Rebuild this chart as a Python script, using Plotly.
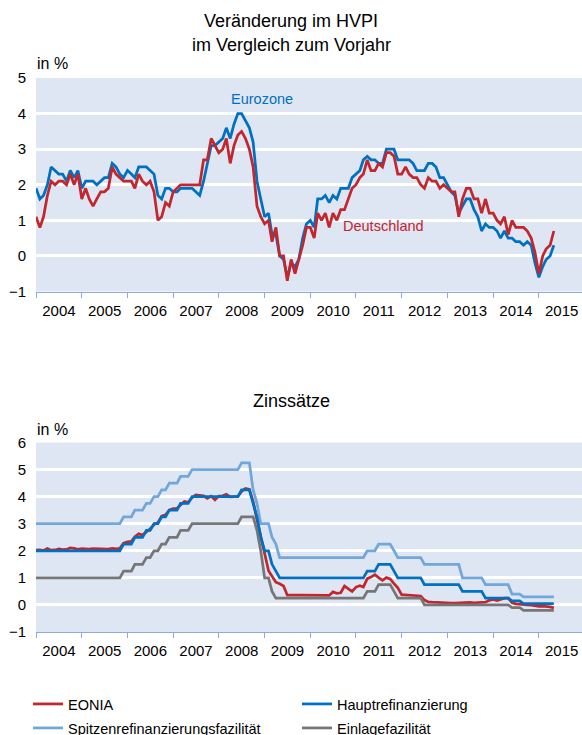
import pandas as pd
import plotly.graph_objects as go

# ---------------- data ----------------
months = pd.date_range("2004-01-01", "2015-05-01", freq="MS")

hvpi_eurozone = [
    1.9, 1.6, 1.7, 2.0, 2.5, 2.4, 2.3, 2.3, 2.1, 2.4, 2.2, 2.4,
    1.9, 2.1, 2.1, 2.1, 2.0, 2.1, 2.2, 2.2, 2.6, 2.5, 2.3, 2.2,
    2.4, 2.3, 2.2, 2.5, 2.5, 2.5, 2.4, 2.3, 1.7, 1.6, 1.9, 1.9,
    1.8, 1.8, 1.9, 1.9, 1.9, 1.9, 1.8, 1.7, 2.1, 2.6, 3.1, 3.1,
    3.2, 3.3, 3.6, 3.3, 3.7, 4.0, 4.0, 3.8, 3.6, 3.2, 2.1, 1.6,
    1.1, 1.2, 0.6, 0.6, 0.0, -0.1, -0.6, -0.2, -0.3, -0.1, 0.5, 0.9,
    1.0, 0.8, 1.6, 1.6, 1.7, 1.5, 1.7, 1.6, 1.9, 1.9, 1.9, 2.2,
    2.3, 2.4, 2.7, 2.8, 2.7, 2.7, 2.6, 2.6, 3.0, 3.0, 3.0, 2.7,
    2.7, 2.7, 2.7, 2.6, 2.4, 2.4, 2.4, 2.6, 2.6, 2.5, 2.2, 2.2,
    2.0, 1.8, 1.7, 1.2, 1.4, 1.6, 1.6, 1.3, 1.1, 0.7, 0.9, 0.8,
    0.8, 0.7, 0.5, 0.7, 0.5, 0.5, 0.4, 0.4, 0.3, 0.4, 0.3, -0.2,
    -0.6, -0.3, -0.1, 0.0, 0.3,
]
hvpi_deutschland = [
    1.1, 0.8, 1.1, 1.7, 2.1, 2.0, 2.1, 2.1, 2.0, 2.3, 2.0, 2.3,
    1.6, 1.9, 1.6, 1.4, 1.6, 1.8, 1.8, 1.9, 2.5, 2.3, 2.2, 2.1,
    2.1, 2.1, 1.9, 2.3, 2.1, 2.0, 2.1, 1.8, 1.0, 1.1, 1.5, 1.4,
    1.8, 1.9, 2.0, 2.0, 2.0, 2.0, 2.0, 2.0, 2.7, 2.7, 3.3, 3.1,
    2.9, 3.0, 3.3, 2.6, 3.1, 3.4, 3.5, 3.3, 3.0, 2.5, 1.4, 1.1,
    0.9, 1.0, 0.4, 0.8, 0.0, 0.0, -0.7, -0.1, -0.5, -0.1, 0.3, 0.8,
    0.8, 0.5, 1.2, 1.0, 1.2, 0.8, 1.2, 1.0, 1.3, 1.3, 1.6, 1.9,
    2.0, 2.2, 2.3, 2.7, 2.4, 2.4, 2.6, 2.5, 2.9, 2.9, 2.8, 2.3,
    2.3, 2.5, 2.3, 2.2, 2.2, 2.0, 1.9, 2.2, 2.1, 2.1, 1.9, 2.0,
    1.9, 1.8, 1.8, 1.1, 1.6, 1.9, 1.9, 1.6, 1.6, 1.2, 1.6, 1.2,
    1.2, 1.0, 0.9, 1.1, 0.6, 1.0, 0.8, 0.8, 0.8, 0.7, 0.5, 0.1,
    -0.5, 0.0, 0.2, 0.3, 0.7,
]

eonia = [
    2.02, 2.03, 2.01, 2.08, 2.02, 2.03, 2.07, 2.04, 2.05, 2.11, 2.09, 2.05,
    2.08, 2.06, 2.06, 2.08, 2.07, 2.06, 2.07, 2.06, 2.09, 2.07, 2.09, 2.28,
    2.33, 2.35, 2.52, 2.63, 2.58, 2.70, 2.81, 2.97, 3.04, 3.28, 3.33, 3.50,
    3.56, 3.57, 3.69, 3.82, 3.79, 3.96, 4.06, 4.05, 4.03, 3.94, 4.02, 3.88,
    4.02, 4.03, 4.09, 3.99, 4.01, 4.01, 4.19, 4.30, 4.27, 3.82, 3.15, 2.49,
    1.81, 1.26, 1.06, 0.84, 0.78, 0.70, 0.36, 0.35, 0.36, 0.36, 0.36, 0.35,
    0.34, 0.34, 0.35, 0.35, 0.34, 0.35, 0.48, 0.43, 0.45, 0.70, 0.59, 0.50,
    0.66, 0.71, 0.66, 0.97, 1.03, 1.12, 1.01, 0.91, 1.01, 0.96, 0.79, 0.63,
    0.38, 0.37, 0.36, 0.35, 0.34, 0.33, 0.18, 0.11, 0.10, 0.09, 0.08, 0.07,
    0.07, 0.07, 0.07, 0.08, 0.08, 0.09, 0.09, 0.08, 0.08, 0.09, 0.10, 0.17,
    0.20, 0.16, 0.19, 0.25, 0.25, 0.08, 0.04, 0.02, 0.01, 0.00, -0.01, -0.03,
    -0.05, -0.04, -0.05, -0.07, -0.11,
]
hauptrefinanzierung = [
    2.00, 2.00, 2.00, 2.00, 2.00, 2.00, 2.00, 2.00, 2.00, 2.00, 2.00, 2.00,
    2.00, 2.00, 2.00, 2.00, 2.00, 2.00, 2.00, 2.00, 2.00, 2.00, 2.00, 2.25,
    2.25, 2.25, 2.50, 2.50, 2.50, 2.75, 2.75, 3.00, 3.00, 3.25, 3.25, 3.50,
    3.50, 3.50, 3.75, 3.75, 3.75, 4.00, 4.00, 4.00, 4.00, 4.00, 4.00, 4.00,
    4.00, 4.00, 4.00, 4.00, 4.00, 4.00, 4.25, 4.25, 4.25, 3.75, 3.25, 2.50,
    2.00, 2.00, 1.50, 1.25, 1.00, 1.00, 1.00, 1.00, 1.00, 1.00, 1.00, 1.00,
    1.00, 1.00, 1.00, 1.00, 1.00, 1.00, 1.00, 1.00, 1.00, 1.00, 1.00, 1.00,
    1.00, 1.00, 1.00, 1.25, 1.25, 1.25, 1.50, 1.50, 1.50, 1.50, 1.25, 1.00,
    1.00, 1.00, 1.00, 1.00, 1.00, 1.00, 0.75, 0.75, 0.75, 0.75, 0.75, 0.75,
    0.75, 0.75, 0.75, 0.75, 0.50, 0.50, 0.50, 0.50, 0.50, 0.50, 0.25, 0.25,
    0.25, 0.25, 0.25, 0.25, 0.25, 0.15, 0.15, 0.15, 0.05, 0.05, 0.05, 0.05,
    0.05, 0.05, 0.05, 0.05, 0.05,
]
spitzenrefinanzierung = [
    3.00, 3.00, 3.00, 3.00, 3.00, 3.00, 3.00, 3.00, 3.00, 3.00, 3.00, 3.00,
    3.00, 3.00, 3.00, 3.00, 3.00, 3.00, 3.00, 3.00, 3.00, 3.00, 3.00, 3.25,
    3.25, 3.25, 3.50, 3.50, 3.50, 3.75, 3.75, 4.00, 4.00, 4.25, 4.25, 4.50,
    4.50, 4.50, 4.75, 4.75, 4.75, 5.00, 5.00, 5.00, 5.00, 5.00, 5.00, 5.00,
    5.00, 5.00, 5.00, 5.00, 5.00, 5.00, 5.25, 5.25, 5.25, 4.25, 3.75, 3.00,
    3.00, 3.00, 2.50, 2.25, 1.75, 1.75, 1.75, 1.75, 1.75, 1.75, 1.75, 1.75,
    1.75, 1.75, 1.75, 1.75, 1.75, 1.75, 1.75, 1.75, 1.75, 1.75, 1.75, 1.75,
    1.75, 1.75, 1.75, 2.00, 2.00, 2.00, 2.25, 2.25, 2.25, 2.25, 2.00, 1.75,
    1.75, 1.75, 1.75, 1.75, 1.75, 1.75, 1.50, 1.50, 1.50, 1.50, 1.50, 1.50,
    1.50, 1.50, 1.50, 1.50, 1.00, 1.00, 1.00, 1.00, 1.00, 1.00, 0.75, 0.75,
    0.75, 0.75, 0.75, 0.75, 0.75, 0.40, 0.40, 0.40, 0.30, 0.30, 0.30, 0.30,
    0.30, 0.30, 0.30, 0.30, 0.30,
]
einlagefazilitaet = [
    1.00, 1.00, 1.00, 1.00, 1.00, 1.00, 1.00, 1.00, 1.00, 1.00, 1.00, 1.00,
    1.00, 1.00, 1.00, 1.00, 1.00, 1.00, 1.00, 1.00, 1.00, 1.00, 1.00, 1.25,
    1.25, 1.25, 1.50, 1.50, 1.50, 1.75, 1.75, 2.00, 2.00, 2.25, 2.25, 2.50,
    2.50, 2.50, 2.75, 2.75, 2.75, 3.00, 3.00, 3.00, 3.00, 3.00, 3.00, 3.00,
    3.00, 3.00, 3.00, 3.00, 3.00, 3.00, 3.25, 3.25, 3.25, 3.25, 2.75, 2.00,
    1.00, 1.00, 0.50, 0.25, 0.25, 0.25, 0.25, 0.25, 0.25, 0.25, 0.25, 0.25,
    0.25, 0.25, 0.25, 0.25, 0.25, 0.25, 0.25, 0.25, 0.25, 0.25, 0.25, 0.25,
    0.25, 0.25, 0.25, 0.50, 0.50, 0.50, 0.75, 0.75, 0.75, 0.75, 0.50, 0.25,
    0.25, 0.25, 0.25, 0.25, 0.25, 0.25, 0.00, 0.00, 0.00, 0.00, 0.00, 0.00,
    0.00, 0.00, 0.00, 0.00, 0.00, 0.00, 0.00, 0.00, 0.00, 0.00, 0.00, 0.00,
    0.00, 0.00, 0.00, 0.00, 0.00, -0.10, -0.10, -0.10, -0.20, -0.20, -0.20, -0.20,
    -0.20, -0.20, -0.20, -0.20, -0.20,
]

# ---------------- styling ----------------
RED = "#c1272d"
BLUE = "#0070c0"
LIGHTBLUE = "#71a7da"
GRAY = "#767676"
BG = "#dfe6f3"
AXIS = "#8eaadb"
FONT = "Liberation Sans, Arial, sans-serif"
LW = 2.75

W, H = 582, 735
L = 36
B = 60  # bottom margin (legend lives there, below the plot area)


def py(px):
    return 1 - px / (H - B)


def px_x(px):
    return (px - L) / (W - L)


fig = go.Figure()

# top chart
fig.add_trace(go.Scatter(x=months, y=hvpi_eurozone, mode="lines", line=dict(color=BLUE, width=LW),
                         showlegend=False, xaxis="x", yaxis="y"))
fig.add_trace(go.Scatter(x=months, y=hvpi_deutschland, mode="lines", line=dict(color=RED, width=LW),
                         showlegend=False, xaxis="x", yaxis="y"))

# bottom chart (one legend box per entry -> 2 x 2 grid)
fig.add_trace(go.Scatter(x=months, y=eonia, mode="lines", name="EONIA",
                         line=dict(color=RED, width=LW), xaxis="x2", yaxis="y2", legend="legend"))
fig.add_trace(go.Scatter(x=months, y=einlagefazilitaet, mode="lines", name="Einlagefazilität",
                         line=dict(color=GRAY, width=LW), xaxis="x2", yaxis="y2", legend="legend4"))
fig.add_trace(go.Scatter(x=months, y=spitzenrefinanzierung, mode="lines", name="Spitzenrefinanzierungsfazilität",
                         line=dict(color=LIGHTBLUE, width=LW), xaxis="x2", yaxis="y2", legend="legend3"))
fig.add_trace(go.Scatter(x=months, y=hauptrefinanzierung, mode="lines", name="Hauptrefinanzierung",
                         line=dict(color=BLUE, width=LW), xaxis="x2", yaxis="y2", legend="legend2"))

xcommon = dict(
    type="date", range=["2004-01-01", "2015-12-12"], tick0="2004-01-01", dtick="M12",
    tickformat="%Y", ticklabelmode="period", ticks="outside", ticklen=5, tickcolor=AXIS,
    showline=True, linecolor=AXIS, linewidth=1, showgrid=False, zeroline=False,
    tickfont=dict(size=15, color="black", family=FONT), ticklabelstandoff=0, automargin=False,
)
ycommon = dict(
    dtick=1, showgrid=True, gridcolor="white", gridwidth=3, zeroline=True, zerolinecolor="white",
    zerolinewidth=3, showline=False, ticks="", ticklabelstandoff=9, automargin=False,
    tickfont=dict(size=15, color="black", family=FONT),
)

top_dom = [py(291.5), py(78)]
bot_dom = [py(632), py(442.5)]

legend_common = dict(orientation="h", xanchor="left", yanchor="top",
                     font=dict(size=14.5, family=FONT), bgcolor="rgba(0,0,0,0)", itemwidth=30)
COL1, COL2 = 28, 297
ROW1, ROW2 = 688, 712

fig.update_layout(
    width=W, height=H,
    margin=dict(l=L, r=0, t=0, b=B, autoexpand=False),
    paper_bgcolor="white", plot_bgcolor=BG,
    font=dict(family=FONT, color="black"),
    xaxis=dict(domain=[0, 1], anchor="y", **xcommon),
    yaxis=dict(domain=top_dom, range=[-1, 5], anchor="x", **ycommon),
    xaxis2=dict(domain=[0, 1], anchor="y2", **xcommon),
    yaxis2=dict(domain=bot_dom, range=[-1, 6], anchor="x2", **ycommon),
    legend=dict(x=px_x(COL1), y=py(ROW1), **legend_common),
    legend2=dict(x=px_x(COL2), y=py(ROW1), **legend_common),
    legend3=dict(x=px_x(COL1), y=py(ROW2), **legend_common),
    legend4=dict(x=px_x(COL2), y=py(ROW2), **legend_common),
    showlegend=True,
)

annotations = [
    dict(text="Veränderung im HVPI", x=px_x(291), y=py(21), xref="paper", yref="paper",
         showarrow=False, font=dict(size=18), xanchor="center", yanchor="middle"),
    dict(text="im Vergleich zum Vorjahr", x=px_x(291), y=py(45), xref="paper", yref="paper",
         showarrow=False, font=dict(size=18), xanchor="center", yanchor="middle"),
    dict(text="in %", x=px_x(35), y=py(64), xref="paper", yref="paper", showarrow=False,
         font=dict(size=16), xanchor="left", yanchor="middle"),
    dict(text="Zinssätze", x=px_x(291), y=py(401), xref="paper", yref="paper", showarrow=False,
         font=dict(size=18), xanchor="center", yanchor="middle"),
    dict(text="in %", x=px_x(35), y=py(429), xref="paper", yref="paper", showarrow=False,
         font=dict(size=16), xanchor="left", yanchor="middle"),
    dict(text="Eurozone", x="2008-12-10", y=4.4, xref="x", yref="y", showarrow=False,
         font=dict(size=14.5, color=BLUE), xanchor="center", yanchor="middle"),
    dict(text="Deutschland", x="2011-08-05", y=0.83, xref="x", yref="y", showarrow=False,
         font=dict(size=14.5, color=RED), xanchor="center", yanchor="middle"),
]
fig.update_layout(annotations=annotations)

# the page body has a default 8px margin; remove it so the figure fills the window
fig.write_html("out.html", config={"displayModeBar": False},
               post_script="document.body.style.margin='0';")
